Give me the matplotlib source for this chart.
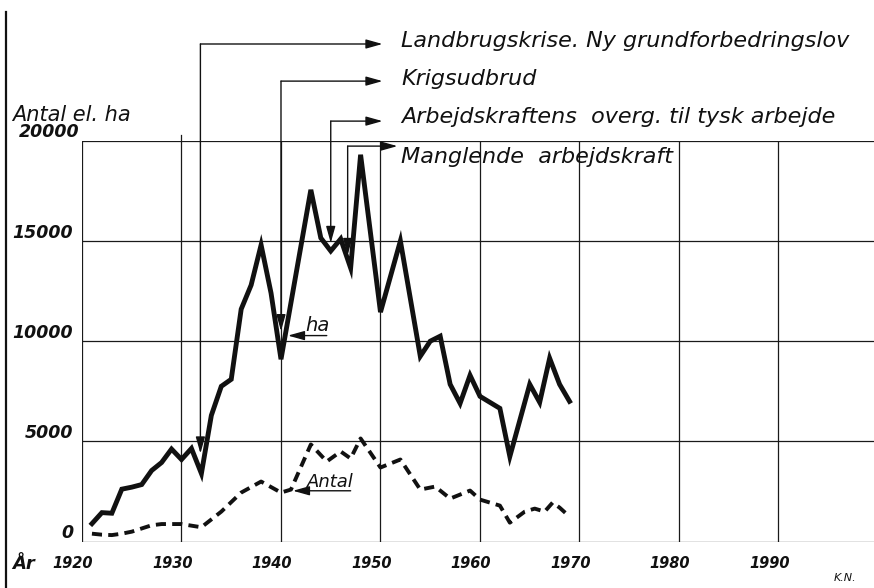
import matplotlib
matplotlib.use('Agg')
import matplotlib.pyplot as plt
from matplotlib.lines import Line2D

# areal (ha), solid line
ha_years = [1921, 1922, 1923, 1924, 1925, 1926, 1927, 1928, 1929, 1930,
            1931, 1932, 1933, 1934, 1935, 1936, 1937, 1938, 1939, 1940,
            1943, 1944, 1945, 1946, 1947, 1948, 1950, 1952, 1954, 1955,
            1956, 1957, 1958, 1959, 1960, 1961, 1962, 1963, 1965, 1966,
            1967, 1968, 1969]
ha_values = [900, 1450, 1420, 2620, 2720, 2850, 3550, 3950, 4620, 4100,
             4650, 3400, 6300, 7750, 8100, 11600, 12800, 14800, 12400, 9100,
             17550, 15150, 14500, 15100, 13650, 19300, 11450, 15000, 9250, 10000,
             10250, 7850, 6900, 8300, 7250, 6950, 6650, 4250, 7850, 6950,
             9150, 7850, 7000]

# antal, dashed line
antal_years = [1921, 1922, 1923, 1924, 1925, 1927, 1928, 1930, 1932, 1934,
               1936, 1938, 1940, 1941, 1943, 1944.6, 1946, 1947, 1948, 1950,
               1952, 1954, 1955.5, 1957, 1959, 1960, 1962, 1963, 1964.5, 1965.5,
               1966.5, 1967.3, 1968, 1969]
antal_values = [400, 350, 330, 400, 500, 820, 880, 880, 720, 1500,
                2450, 3000, 2450, 2600, 4850, 4000, 4500, 4150, 5150, 3700,
                4100, 2600, 2750, 2150, 2550, 2100, 1800, 950, 1500, 1650,
                1500, 1950, 1700, 1250]

x_ticks = [1920, 1930, 1940, 1950, 1960, 1970, 1980, 1990]
y_ticks = [0, 5000, 10000, 15000, 20000]
y_tick_labels = ['0', '5000', '10000', '15000', '20000']

# events: year the arrow points at, text
event_years = [1931.9, 1940.0, 1945.0, 1946.7]
event_texts = ['Landbrugskrise. Ny grundforbedringslov',
               'Krigsudbrud',
               'Arbejdskraftens  overg. til tysk arbejde',
               'Manglende  arbejdskraft']

W, H = 874, 588
fig = plt.figure(figsize=(W / 100, H / 100), dpi=100)
fig.patch.set_facecolor('white')

# axes box: 1920 at x=82px, 0 at y=541.7px, 20000 at y=140.7px
left = 82 / W
bottom = (H - 541.7) / H
top = (H - 140.7) / H
ax = fig.add_axes([left, bottom, 1 - left, top - bottom])
ax.set_xlim(1920, 1999.6)
ax.set_ylim(0, 20000)
for s in ax.spines.values():
    s.set_visible(False)
ax.set_xticks([])
ax.set_yticks([])

grid_kw = dict(color='#1a1a1a', lw=0.9, zorder=1)
for x in x_ticks:
    ax.axvline(x, **grid_kw)
for y in y_ticks:
    ax.axhline(y, **grid_kw)
# the 1930 line runs a little past the top of the grid
ax.plot([1930, 1930], [20000, 20280], clip_on=False, **grid_kw)

ax.plot(ha_years, ha_values, color='#111111', lw=3.5,
        solid_joinstyle='miter', zorder=3)
ax.plot(antal_years, antal_values, color='#111111', lw=2.8,
        linestyle=(0, (2.6, 1.6)), zorder=3)

ytick_font = dict(family='DejaVu Sans', style='italic', weight='bold',
                  size=12.5, color='#111111')
xtick_font = dict(family='DejaVu Sans', style='italic', weight='bold',
                  size=10.5, color='#111111')
for v, lab in zip(y_ticks, y_tick_labels):
    xpos = 1919.7 if v == 20000 else 1919.1
    ax.text(xpos, v + 420, lab, ha='right', va='center',
            clip_on=False, **ytick_font)
for x in x_ticks:
    ax.text(x - 0.9, -1070, str(x), ha='center', va='center',
            clip_on=False, **xtick_font)
ax.text(1913.0, -1100, 'År', ha='left', va='center', clip_on=False,
        family='DejaVu Sans', style='italic', weight='bold', size=13,
        color='#111111')
ax.text(1913.0, 21000, 'Antal el. ha', ha='left', va='baseline',
        clip_on=False, family='DejaVu Sans', style='italic', size=15,
        color='#111111')
ax.text(1996.7, -1820, 'K.N.', ha='center', va='center', clip_on=False,
        family='DejaVu Sans', style='italic', size=8, color='#111111')

# event arrows
head = dict(arrowstyle='-|>,head_length=1.0,head_width=0.28',
            color='#111111', lw=1.0, shrinkA=0, shrinkB=0)
top_y = [24823, 22972, 20977, 19730]
tip_y = [4400, 10500, 14900, 14300]
right_x = [1950.2, 1950.2, 1950.2, 1951.7]
text_y = [24673, 22777, 20882, 18887]
for ex, ty, by, rx, txy, txt in zip(event_years, top_y, tip_y, right_x,
                                    text_y, event_texts):
    ax.annotate('', xy=(ex, by), xytext=(ex, ty), arrowprops=head,
                annotation_clip=False)
    ax.annotate('', xy=(rx, ty), xytext=(ex, ty), arrowprops=head,
                annotation_clip=False)
    ax.text(1952.1, txy, txt, ha='left', va='baseline', clip_on=False,
            family='DejaVu Sans', style='italic', size=16, color='#111111')

# series labels
ax.annotate('', xy=(1940.7, 10280), xytext=(1944.6, 10280),
            arrowprops=head, annotation_clip=False)
ax.text(1942.4, 10500, 'ha', ha='left', va='baseline', family='DejaVu Sans',
        style='italic', size=14, color='#111111')
ax.annotate('', xy=(1941.2, 2540), xytext=(1947.0, 2540),
            arrowprops=head, annotation_clip=False)
ax.text(1942.6, 2730, 'Antal', ha='left', va='baseline', family='DejaVu Sans',
        style='italic', size=13, color='#111111')

# page edge line on the left
fig.add_artist(Line2D([6 / W, 6 / W], [0, 1 - 12 / H], color='#111111',
                      lw=1.6, transform=fig.transFigure))

fig.savefig('out.png', dpi=100, facecolor='white')
